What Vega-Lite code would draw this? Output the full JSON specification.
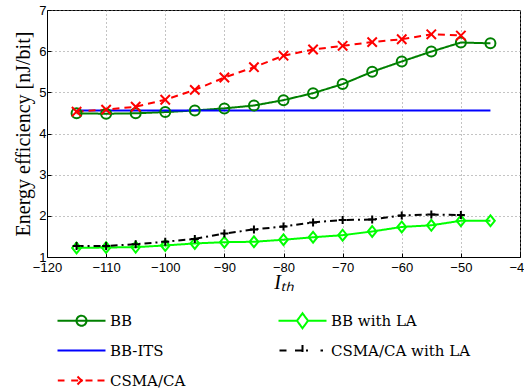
{
  "$schema": "https://vega.github.io/schema/vega-lite/v6.json",
  "width": 473,
  "height": 247,
  "autosize": "none",
  "padding": {"left": 47, "top": 10, "right": 4, "bottom": 132},
  "background": "white",
  "config": {
    "view": {"stroke": "black", "strokeWidth": 1},
    "axis": {
      "labelFont": "Liberation Sans",
      "labelFontSize": 13,
      "labelColor": "black",
      "labelFlush": false,
      "domainColor": "black",
      "tickColor": "black",
      "gridColor": "#888888",
      "gridDash": [1, 3],
      "gridOpacity": 1,
      "titleFont": "Liberation Serif",
      "titleFontWeight": "normal",
      "titleColor": "black",
      "titleFontSize": 20
    },
    "legend": {
      "labelFont": "DejaVu Serif",
      "labelFontSize": 15,
      "labelColor": "black"
    }
  },
  "data": {
    "values": [
      {"s": "BB", "x": -115, "y": 4.49},
      {"s": "BB", "x": -110, "y": 4.48},
      {"s": "BB", "x": -105, "y": 4.49},
      {"s": "BB", "x": -100, "y": 4.52},
      {"s": "BB", "x": -95, "y": 4.56},
      {"s": "BB", "x": -90, "y": 4.61},
      {"s": "BB", "x": -85, "y": 4.68},
      {"s": "BB", "x": -80, "y": 4.81},
      {"s": "BB", "x": -75, "y": 4.98},
      {"s": "BB", "x": -70, "y": 5.2},
      {"s": "BB", "x": -65, "y": 5.5},
      {"s": "BB", "x": -60, "y": 5.75},
      {"s": "BB", "x": -55, "y": 5.99},
      {"s": "BB", "x": -50, "y": 6.21},
      {"s": "BB", "x": -45, "y": 6.19},
      {"s": "BB-ITS", "x": -115, "y": 4.56},
      {"s": "BB-ITS", "x": -45, "y": 4.56},
      {"s": "CSMA/CA", "x": -115, "y": 4.53},
      {"s": "CSMA/CA", "x": -110, "y": 4.58},
      {"s": "CSMA/CA", "x": -105, "y": 4.65},
      {"s": "CSMA/CA", "x": -100, "y": 4.82},
      {"s": "CSMA/CA", "x": -95, "y": 5.06},
      {"s": "CSMA/CA", "x": -90, "y": 5.36},
      {"s": "CSMA/CA", "x": -85, "y": 5.61},
      {"s": "CSMA/CA", "x": -80, "y": 5.89},
      {"s": "CSMA/CA", "x": -75, "y": 6.04},
      {"s": "CSMA/CA", "x": -70, "y": 6.13},
      {"s": "CSMA/CA", "x": -65, "y": 6.22},
      {"s": "CSMA/CA", "x": -60, "y": 6.29},
      {"s": "CSMA/CA", "x": -55, "y": 6.41},
      {"s": "CSMA/CA", "x": -50, "y": 6.38},
      {"s": "BB with LA", "x": -115, "y": 1.22},
      {"s": "BB with LA", "x": -110, "y": 1.23},
      {"s": "BB with LA", "x": -105, "y": 1.24},
      {"s": "BB with LA", "x": -100, "y": 1.28},
      {"s": "BB with LA", "x": -95, "y": 1.33},
      {"s": "BB with LA", "x": -90, "y": 1.36},
      {"s": "BB with LA", "x": -85, "y": 1.37},
      {"s": "BB with LA", "x": -80, "y": 1.42},
      {"s": "BB with LA", "x": -75, "y": 1.48},
      {"s": "BB with LA", "x": -70, "y": 1.53},
      {"s": "BB with LA", "x": -65, "y": 1.62},
      {"s": "BB with LA", "x": -60, "y": 1.73},
      {"s": "BB with LA", "x": -55, "y": 1.77},
      {"s": "BB with LA", "x": -50, "y": 1.88},
      {"s": "BB with LA", "x": -45, "y": 1.88},
      {"s": "CSMA/CA with LA", "x": -115, "y": 1.27},
      {"s": "CSMA/CA with LA", "x": -110, "y": 1.27},
      {"s": "CSMA/CA with LA", "x": -105, "y": 1.31},
      {"s": "CSMA/CA with LA", "x": -100, "y": 1.37},
      {"s": "CSMA/CA with LA", "x": -95, "y": 1.44},
      {"s": "CSMA/CA with LA", "x": -90, "y": 1.57},
      {"s": "CSMA/CA with LA", "x": -85, "y": 1.67},
      {"s": "CSMA/CA with LA", "x": -80, "y": 1.74},
      {"s": "CSMA/CA with LA", "x": -75, "y": 1.84},
      {"s": "CSMA/CA with LA", "x": -70, "y": 1.9},
      {"s": "CSMA/CA with LA", "x": -65, "y": 1.91},
      {"s": "CSMA/CA with LA", "x": -60, "y": 2.01},
      {"s": "CSMA/CA with LA", "x": -55, "y": 2.03},
      {"s": "CSMA/CA with LA", "x": -50, "y": 2.02}
    ]
  },
  "encoding": {
    "x": {
      "field": "x",
      "type": "quantitative",
      "scale": {"domain": [-120, -40], "nice": false, "zero": false},
      "axis": {
        "values": [-120, -110, -100, -90, -80, -70, -60, -50, -40],
        "title": "Iₜₕ",
        "titleFontStyle": "italic",
        "titlePadding": -2,
        "labelPadding": 8,
        "tickSize": -4,
        "labelExpr": "replace(datum.label, '-', '−')"
      }
    },
    "y": {
      "field": "y",
      "type": "quantitative",
      "scale": {"domain": [1, 7], "nice": false, "zero": false},
      "axis": {
        "values": [1, 2, 3, 4, 5, 6, 7],
        "title": "Energy efficiency [nJ/bit]",
        "titlePadding": 5,
        "labelPadding": 5,
        "tickSize": -4
      }
    }
  },
  "layer": [
    {
      "mark": {"type": "line", "strokeWidth": 2},
      "encoding": {
        "color": {
          "field": "s",
          "type": "nominal",
          "scale": {
            "domain": ["BB", "BB-ITS", "CSMA/CA", "BB with LA", "CSMA/CA with LA"],
            "range": ["#008000", "#0000ff", "#ff0000", "#00ff00", "#000000"]
          },
          "legend": {
            "orient": "none",
            "legendX": 27,
            "legendY": 303,
            "columns": 2,
            "title": null,
            "labelFont": "DejaVu Serif",
            "labelFontSize": 15,
            "labelColor": "black",
            "symbolSize": 100,
            "labelOffset": 21,
            "rowPadding": 5,
            "columnPadding": 88,
            "symbolStrokeWidth": 2,
            "encode": {
              "labels": {
                "update": {
                  "font": {"value": "DejaVu Serif"},
                  "fontSize": {"value": 15},
                  "fill": {"value": "black"}
                }
              },
              "symbols": {
                "update": {
                  "shape": {"signal": "(datum.value === 'BB' ? 'M-4.8,0L4.8,0M1,0A1,1,0,1,1,-1,0A1,1,0,1,1,1,0' : datum.value === 'BB-ITS' ? 'M-4.8,0L4.8,0' : datum.value === 'CSMA/CA' ? 'M-4.74,0L-3.4,0M-2.06,0L-0.4,0M0.8,0L2.2,0M3.2,0L4.6,0M-0.8,-0.8L0.8,0.8M-0.8,0.8L0.8,-0.8' : datum.value === 'BB with LA' ? 'M-4.8,0L-1.1,0M1.1,0L4.8,0M-1.1,0L0,-1.5L1.1,0L0,1.5Z' : 'M-4.6,0L-3.2,0M-1.5,0L1.5,0M0,-1.1L0,1.1M3.6,0L4.1,0') + 'M-4.8,-1.6M4.8,1.6'"},
                  "fill": {"value": "transparent"},
                  "strokeWidth": {"value": 2},
                  "strokeDash": {"value": []}
                }
              }
            }
          }
        },
        "strokeDash": {
          "field": "s",
          "type": "nominal",
          "scale": {
            "domain": ["BB", "BB-ITS", "CSMA/CA", "BB with LA", "CSMA/CA with LA"],
            "range": [[1, 0], [1, 0], [7, 5], [1, 0], [7, 4, 2, 4]]
          },
          "legend": null
        }
      }
    },
    {
      "transform": [{"filter": "datum.s !== 'BB-ITS'"}],
      "mark": {"type": "point", "filled": false, "strokeWidth": 2, "opacity": 1},
      "encoding": {
        "color": {"field": "s", "type": "nominal"},
        "shape": {
          "field": "s",
          "type": "nominal",
          "scale": {
            "domain": ["BB", "CSMA/CA", "BB with LA", "CSMA/CA with LA"],
            "range": ["circle", "M-1,-1L1,1M-1,1L1,-1", "M-1,0L0,-1.25L1,0L0,1.25Z", "M-1,0L1,0M0,-1L0,1"]
          },
          "legend": null
        },
        "size": {
          "field": "s",
          "type": "nominal",
          "scale": {
            "domain": ["BB", "CSMA/CA", "BB with LA", "CSMA/CA with LA"],
            "range": [100, 64, 81, 100]
          },
          "legend": null
        }
      }
    }
  ]
}
